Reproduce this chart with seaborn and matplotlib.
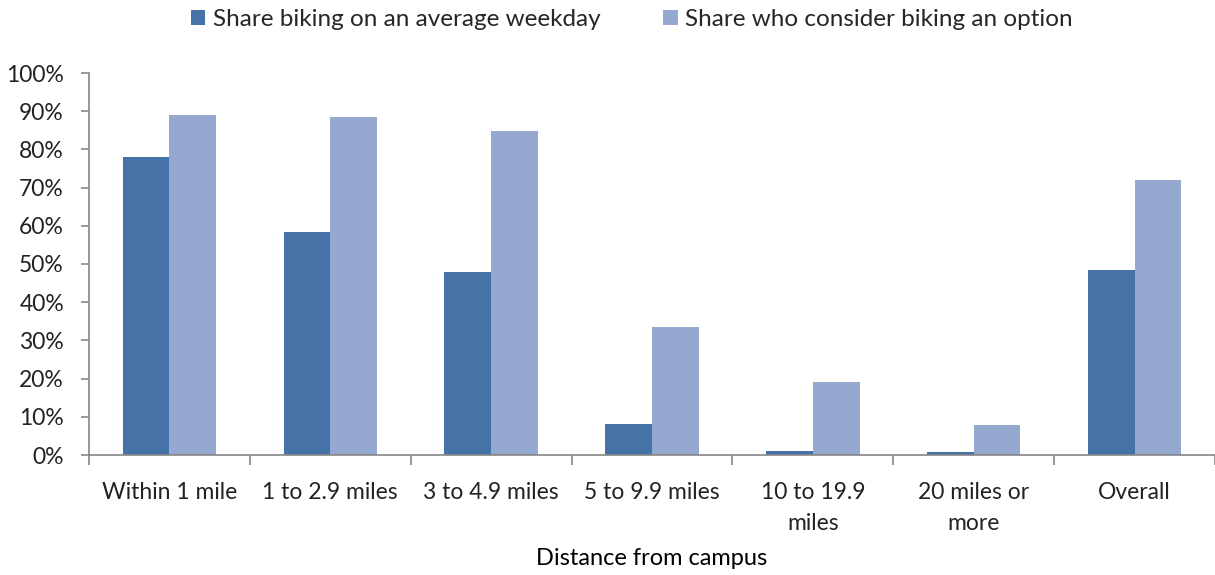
import pandas as pd
import seaborn as sns
import matplotlib.pyplot as plt
from matplotlib.ticker import PercentFormatter, FixedLocator

# Dados
distancias = ["Within 1 mile", "1 to 2.9 miles", "3 to 4.9 miles", "5 to 9.9 miles",
              "10 to 19.9\nmiles", "20 miles or\nmore", "Overall"]
bike_dia = [78.0, 58.4, 47.9, 8.1, 1.0, 0.8, 48.4]
bike_opcao = [89.0, 88.5, 84.8, 33.5, 19.1, 7.9, 72.0]
series = ["Share biking on an average weekday", "Share who consider biking an option"]
cores = ["#4572A7", "#95A9D0"]

dados = pd.DataFrame({
    "Distance": distancias * 2,
    "Share": [v / 100 for v in bike_dia + bike_opcao],
    "Serie": [series[0]] * len(distancias) + [series[1]] * len(distancias),
})

sns.set_style("white")
plt.rcParams['font.family'] = ['Lato', 'DejaVu Sans']

fig = plt.figure(figsize=(12.15, 5.75), dpi=100)
ax = fig.add_axes([89 / 1215, 1 - 455 / 575, 1 - 89 / 1215, (455 - 73) / 575])

sns.barplot(data=dados, x="Distance", y="Share", hue="Serie", palette=cores,
            width=0.58, saturation=1, linewidth=0, ax=ax, legend=True)

ax.set_ylim(0, 1)
ax.set_xlim(-0.5, len(distancias) - 0.5)
ax.yaxis.set_major_locator(FixedLocator([i / 10 for i in range(11)]))
ax.yaxis.set_major_formatter(PercentFormatter(1.0, decimals=0))

cinza = "#868686"
for lado in ["top", "right"]:
    ax.spines[lado].set_visible(False)
for lado in ["left", "bottom"]:
    ax.spines[lado].set_color(cinza)
    ax.spines[lado].set_linewidth(1.2)

ax.tick_params(axis="y", which="major", left=True, length=6, color=cinza, width=1.2,
               labelsize=16.5, labelcolor="#222222", pad=12)
ax.tick_params(axis="x", which="major", bottom=False, labelsize=16.5, labelcolor="#222222", pad=16)
for lbl in ax.get_xticklabels():
    lbl.set_linespacing(1.6)
ax.xaxis.set_minor_locator(FixedLocator([i - 0.5 for i in range(len(distancias) + 1)]))
ax.tick_params(axis="x", which="minor", bottom=True, length=7, color=cinza, width=1.2)

ax.set_ylabel("")
ax.set_xlabel("Distance from campus", fontsize=17, color="black", labelpad=10)

ax.legend(loc="upper center", bbox_to_anchor=(0.482, 1.225), ncol=2, frameon=False,
          fontsize=17.5, handlelength=0.6, handleheight=0.6, handletextpad=0.3,
          columnspacing=2.6)

fig.savefig("out.png", dpi=100)
